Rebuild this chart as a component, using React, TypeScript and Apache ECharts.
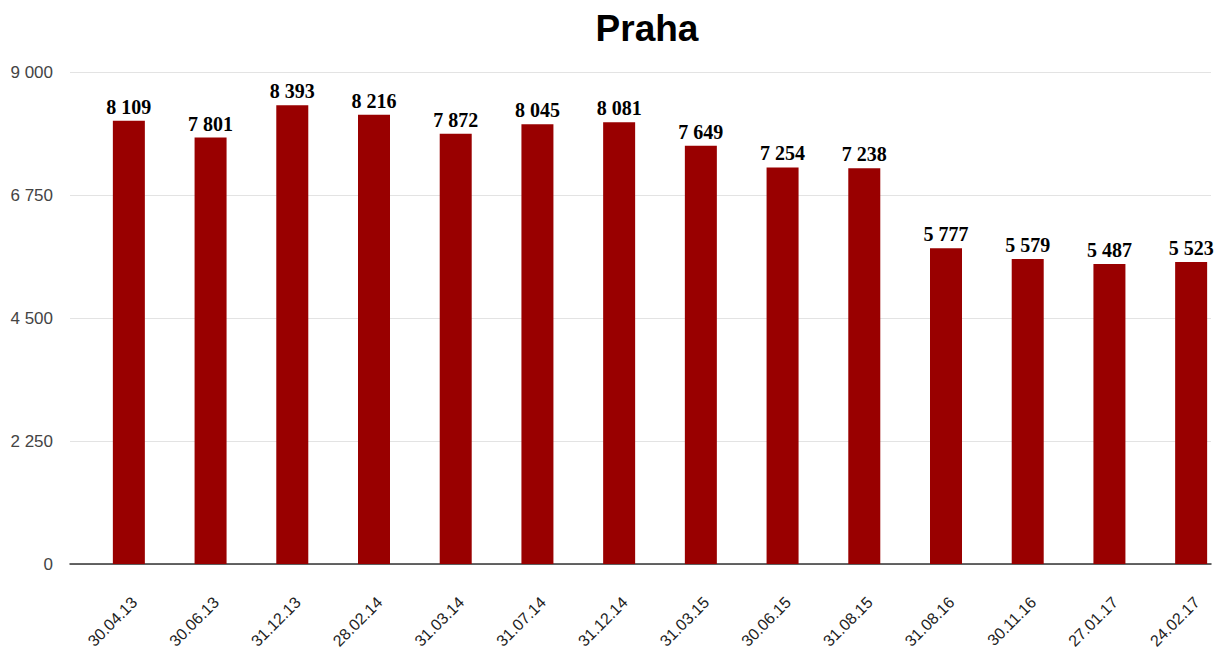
import React, { useEffect, useRef } from "react";
import * as echarts from "echarts";

const categories = [
  "30.04.13", "30.06.13", "31.12.13", "28.02.14", "31.03.14", "31.07.14", "31.12.14",
  "31.03.15", "30.06.15", "31.08.15", "31.08.16", "30.11.16", "27.01.17", "24.02.17",
];
const values = [8109, 7801, 8393, 8216, 7872, 8045, 8081, 7649, 7254, 7238, 5777, 5579, 5487, 5523];
const yMin = 0;
const yMax = 9000;
const yInterval = 2250;

const fmt = (v: number) => String(v).replace(/\B(?=(\d{3})+(?!\d))/g, " ");

export default function App() {
  const ref = useRef<HTMLDivElement>(null);
  useEffect(() => {
    if (!ref.current) return;
    const chart = echarts.init(ref.current, null, { renderer: "svg" });
    chart.setOption({
      animation: false,
      backgroundColor: "#ffffff",
      title: {
        text: "Praha",
        left: 642,
        top: 5,
        textAlign: "center",
        textStyle: { fontFamily: "Liberation Sans, Arial", fontWeight: "bold", fontSize: 37, color: "#000" },
      },
      grid: [
        { left: 88, top: 72, right: -17, height: 492, outerBoundsMode: "none", containLabel: false },
        { left: 70, top: 72, right: 4, height: 492, outerBoundsMode: "none", containLabel: false },
      ],
      xAxis: [
        {
          type: "category",
          gridIndex: 0,
          data: categories,
          axisLine: { show: false },
          axisTick: { show: false },
          axisLabel: {
            rotate: 45,
            margin: 30,
            interval: 0,
            verticalAlign: "top",
            fontFamily: "Liberation Sans, Arial",
            fontSize: 16,
            color: "#222",
          },
        },
        {
          type: "value",
          gridIndex: 1,
          min: 0,
          max: 1,
          axisLine: { show: true, lineStyle: { color: "#333", width: 1.5 } },
          axisTick: { show: false },
          axisLabel: { show: false },
          splitLine: { show: false },
        },
      ],
      yAxis: [
        {
          type: "value",
          gridIndex: 0,
          min: yMin,
          max: yMax,
          interval: yInterval,
          show: false,
          splitLine: { show: false },
        },
        {
          type: "value",
          gridIndex: 1,
          min: yMin,
          max: yMax,
          interval: yInterval,
          axisLine: { show: false },
          axisTick: { show: false },
          axisLabel: {
            margin: 17,
            fontFamily: "Liberation Sans, Arial",
            fontSize: 17,
            color: "#444",
            formatter: (v: number) => fmt(v),
          },
          splitLine: { show: true, lineStyle: { color: "#e3e3e3", width: 1 } },
        },
      ],
      series: [
        {
          type: "bar",
          xAxisIndex: 0,
          yAxisIndex: 0,
          data: values,
          barWidth: 32,
          itemStyle: { color: "#990000" },
          label: {
            show: true,
            position: "top",
            distance: 4,
            fontFamily: "Liberation Serif, Times New Roman",
            fontWeight: "bold",
            fontSize: 20,
            color: "#000",
            formatter: (p: any) => fmt(p.value),
          },
        },
        {
          type: "line",
          xAxisIndex: 1,
          yAxisIndex: 1,
          data: [],
          silent: true,
        },
      ],
    });
    return () => chart.dispose();
  }, []);
  return (
    <div
      ref={ref}
      style={{ position: "fixed", left: 0, top: 0, width: 1215, height: 654 }}
    />
  );
}
